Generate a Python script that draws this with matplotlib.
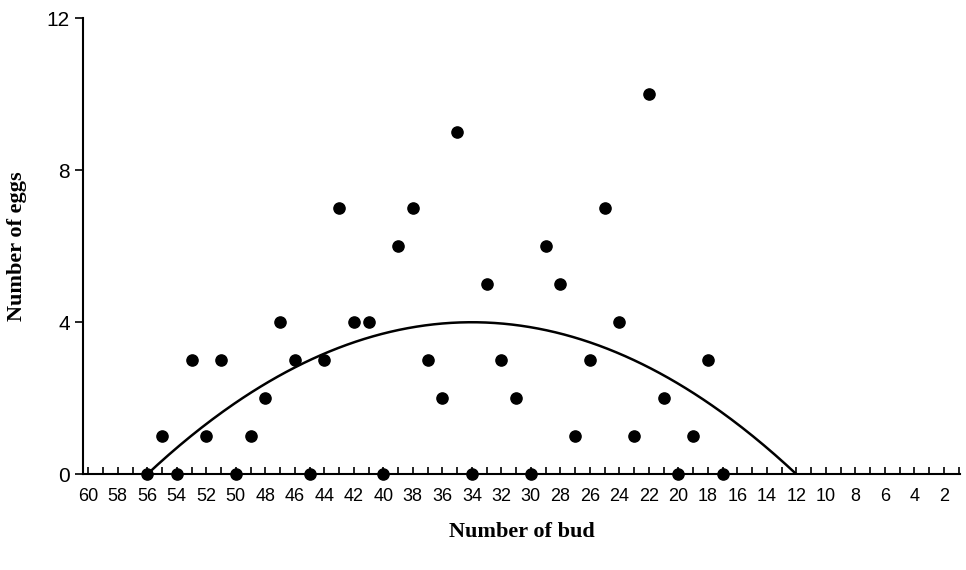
import matplotlib
matplotlib.use('Agg')
import matplotlib.pyplot as plt
import numpy as np

buds = [56, 55, 54, 53, 52, 51, 50, 49, 48, 47, 46, 45, 44, 43, 42, 41, 40, 39, 38, 37,
        36, 35, 34, 33, 32, 31, 30, 29, 28, 27, 26, 25, 24, 23, 22, 21, 20, 19, 18, 17]
eggs = [0, 1, 0, 3, 1, 3, 0, 1, 2, 4, 3, 0, 3, 7, 4, 4, 0, 6, 7, 3,
        2, 9, 0, 5, 3, 2, 0, 6, 5, 1, 3, 7, 4, 1, 10, 2, 0, 1, 3, 0]
# fitted curve: roots at 56 and 12, peak 4 at 34
fit_roots = (56, 12)
fit_peak = 4

plt.rcParams['font.family'] = ['Liberation Sans', 'DejaVu Sans']
fig = plt.figure(figsize=(9.66, 5.7), dpi=100)
ax = fig.add_axes([0.086, 0.168, 0.908, 0.80])

ax.scatter(buds, eggs, s=65, color='black', marker='o', zorder=3, clip_on=False)

xc = np.linspace(fit_roots[0], fit_roots[1], 300)
mid = (fit_roots[0] + fit_roots[1]) / 2
half = (fit_roots[0] - fit_roots[1]) / 2
ax.plot(xc, fit_peak * (1 - ((xc - mid) / half) ** 2), color='black', lw=1.8)

ax.set_xlim(60.35, 0.9)
ax.set_ylim(0, 12)
ax.set_yticks([0, 4, 8, 12])
ax.set_xticks(np.arange(60, 1, -2))
ax.set_xticks(np.arange(60, 0, -1), minor=True)
ax.tick_params(axis='x', which='both', direction='in', length=5, width=1.2, labelsize=13, pad=10)
ax.tick_params(axis='y', direction='out', length=6, width=1.2, labelsize=15)
ax.spines['top'].set_visible(False)
ax.spines['right'].set_visible(False)
ax.spines['left'].set_linewidth(1.5)
ax.spines['bottom'].set_linewidth(1.5)

ax.set_xlabel('Number of bud', fontfamily='Liberation Serif', fontweight='bold', fontsize=16, labelpad=12)
ax.set_ylabel('Number of eggs', fontfamily='Liberation Serif', fontweight='bold', fontsize=16, labelpad=14)

fig.savefig('out.png')
